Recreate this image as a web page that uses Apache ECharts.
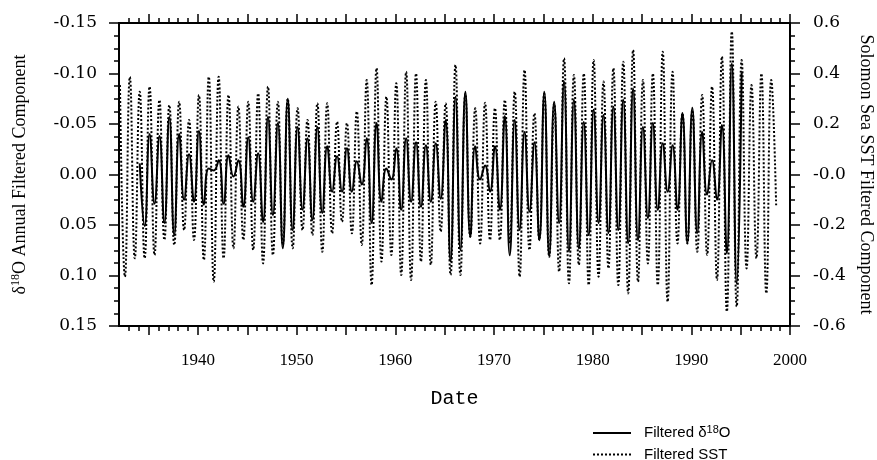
<!DOCTYPE html>
<html>
<head>
<meta charset="utf-8">
<script src="https://cdn.jsdelivr.net/npm/echarts@6/dist/echarts.min.js"></script>
<style>
  html, body { margin: 0; padding: 0; background: #fff; }
  #chart { width: 877px; height: 460px; }
</style>
</head>
<body>
<div id="chart"></div>
<script>
// filtered series, read as peak / trough every half year
var sstStart = 1932.1;
var sstValues = [
  0.354, -0.405, 0.387, -0.332, 0.328, -0.332, 0.348, -0.319, 0.295, -0.259,
  0.275, -0.279, 0.288, -0.220, 0.216, -0.259, 0.315, -0.339, 0.387, -0.425,
  0.387, -0.332, 0.315, -0.292, 0.269, -0.259, 0.288, -0.299, 0.321, -0.352,
  0.348, -0.319, 0.288, -0.280, 0.300, -0.292, 0.262, -0.220, 0.216, -0.240,
  0.282, -0.306, 0.282, -0.233, 0.209, -0.187, 0.203, -0.233, 0.249, -0.279,
  0.374, -0.438, 0.421, -0.345, 0.308, -0.319, 0.361, -0.398, 0.407, -0.418,
  0.400, -0.345, 0.374, -0.358, 0.288, -0.226, 0.282, -0.398, 0.434, -0.398,
  0.320, -0.246, 0.262, -0.273, 0.284, -0.259, 0.262, -0.259, 0.295, -0.273,
  0.328, -0.405, 0.414, -0.299, 0.242, -0.259, 0.320, -0.326, 0.282, -0.385,
  0.460, -0.431, 0.394, -0.358, 0.400, -0.438, 0.453, -0.405, 0.368, -0.372,
  0.421, -0.438, 0.447, -0.471, 0.493, -0.425, 0.374, -0.352, 0.400, -0.438,
  0.486, -0.504, 0.407, -0.273, 0.242, -0.273, 0.255, -0.306, 0.315, -0.319,
  0.348, -0.418, 0.467, -0.543, 0.566, -0.523, 0.453, -0.372, 0.354, -0.332,
  0.400, -0.471, 0.374, -0.127
];

var d18oStart = 1934.1;
var d18oValues = [
  -0.011, 0.051, -0.040, 0.029, -0.038, 0.048, -0.057, 0.060, -0.040, 0.025,
  -0.020, 0.027, -0.043, 0.030, -0.006, -0.004, -0.014, 0.029, -0.019, 0.002,
  -0.014, 0.032, -0.037, 0.027, -0.021, 0.047, -0.057, 0.040, -0.051, 0.073,
  -0.075, 0.055, -0.047, 0.035, -0.036, 0.045, -0.047, 0.038, -0.028, 0.017,
  -0.018, 0.017, -0.026, 0.017, -0.013, 0.010, -0.036, 0.048, -0.051, 0.027,
  -0.006, 0.005, -0.026, 0.035, -0.036, 0.027, -0.032, 0.032, -0.029, 0.027,
  -0.031, 0.024, -0.054, 0.086, -0.077, 0.075, -0.082, 0.062, -0.028, 0.005,
  -0.009, 0.017, -0.028, 0.035, -0.058, 0.080, -0.054, 0.055, -0.042, 0.037,
  -0.032, 0.065, -0.082, 0.081, -0.072, 0.048, -0.092, 0.076, -0.074, 0.073,
  -0.052, 0.060, -0.064, 0.048, -0.059, 0.058, -0.067, 0.055, -0.074, 0.068,
  -0.085, 0.065, -0.047, 0.043, -0.051, 0.035, -0.031, 0.017, -0.029, 0.035,
  -0.061, 0.068, -0.066, 0.058, -0.042, 0.020, -0.014, 0.025, -0.049, 0.078,
  -0.110, 0.108, -0.101
];

var yearTicks = [1935, 1940, 1945, 1950, 1955, 1960, 1965, 1970, 1975, 1980, 1985, 1990, 1995, 2000];
var yearLabels = [1940, 1950, 1960, 1970, 1980, 1990, 2000];

var minorYears = [];
for (var y = 1933; y <= 1999; y++) minorYears.push(y);

function toPairs(start, values) {
  return values.map(function (v, i) {
    return [Math.round((start + i * 0.5) * 10) / 10, v];
  });
}

var chart = echarts.init(document.getElementById('chart'));

var lineBlack = { color: '#000', width: 2 };
var tickBlack = { color: '#000', width: 1.5 };

function xAxisDef(pos, ticks, len, withLabels) {
  return {
    type: 'value',
    position: pos,
    min: 1932,
    max: 2000,
    axisLine: { show: true, onZero: false, lineStyle: lineBlack },
    axisTick: { show: true, customValues: ticks, length: len, lineStyle: tickBlack },
    axisLabel: withLabels ? {
      show: true,
      customValues: yearLabels,
      margin: 26,
      color: '#000',
      fontFamily: 'Liberation Serif',
      fontSize: 17,
      formatter: function (v) { return String(v); }
    } : { show: false },
    splitLine: { show: false }
  };
}

var bottomAxis = xAxisDef('bottom', yearTicks, 9, true);
bottomAxis.name = 'Date';
bottomAxis.nameLocation = 'middle';
bottomAxis.nameGap = 63;
bottomAxis.nameTextStyle = { fontFamily: 'Liberation Mono', fontSize: 20, color: '#000' };

var supRich = {
  a: { fontFamily: 'Liberation Serif', fontSize: 18, color: '#000' },
  s: { fontFamily: 'Liberation Serif', fontSize: 12, color: '#000', padding: [0, 0, 8, 0] }
};

function legendDef(name, top) {
  return {
    orient: 'vertical',
    left: 587,
    top: top,
    itemWidth: 38,
    itemHeight: 12,
    itemStyle: { color: 'rgba(0,0,0,0)', borderWidth: 0 },
    textStyle: {
      fontFamily: 'Liberation Sans',
      fontSize: 15,
      color: '#000',
      padding: [0, 0, 0, 8],
      rich: {
        t: { fontFamily: 'Liberation Sans', fontSize: 15, color: '#000' },
        s: { fontFamily: 'Liberation Sans', fontSize: 11, color: '#000', padding: [0, 0, 7, 0] }
      }
    },
    formatter: function (n) {
      if (n === 'Filtered δ18O') return '{t|Filtered δ}{s|18}{t|O}';
      return n;
    },
    data: [name]
  };
}

chart.setOption({
  animation: false,
  backgroundColor: '#fff',
  grid: { left: 119, right: 87, top: 23, bottom: 134, outerBoundsMode: 'none' },
  legend: [
    legendDef('Filtered δ18O', 419),
    legendDef('Filtered SST', 442)
  ],
  xAxis: [
    bottomAxis,
    xAxisDef('bottom', minorYears, 5, false),
    xAxisDef('top', yearTicks, 9, false),
    xAxisDef('top', minorYears, 5, false)
  ],
  yAxis: [
    {
      type: 'value',
      position: 'left',
      inverse: true,
      min: -0.15,
      max: 0.15,
      interval: 0.05,
      name: '{a|δ}{s|18}{a|O Annual Filtered Component}',
      nameLocation: 'middle',
      nameGap: 89,
      nameRotate: 90,
      nameTextStyle: { rich: supRich },
      axisLine: { show: true, lineStyle: lineBlack },
      axisTick: { show: true, length: 10, lineStyle: tickBlack },
      minorTick: { show: true, splitNumber: 4, length: 5, lineStyle: tickBlack },
      axisLabel: {
        margin: 22,
        color: '#000',
        fontFamily: 'DejaVu Serif',
        fontSize: 17,
        formatter: function (v) { return v.toFixed(2); }
      },
      splitLine: { show: false }
    },
    {
      type: 'value',
      position: 'right',
      min: -0.6,
      max: 0.6,
      interval: 0.2,
      name: 'Solomon Sea SST Filtered Component',
      nameLocation: 'middle',
      nameGap: 67,
      nameRotate: -90,
      nameTextStyle: { fontFamily: 'Liberation Serif', fontSize: 18, color: '#000' },
      axisLine: { show: true, lineStyle: lineBlack },
      axisTick: { show: true, length: 10, lineStyle: tickBlack },
      minorTick: { show: true, splitNumber: 4, length: 5, lineStyle: tickBlack },
      axisLabel: {
        margin: 23,
        color: '#000',
        fontFamily: 'DejaVu Serif',
        fontSize: 17,
        formatter: function (v) {
          if (Math.abs(v) < 1e-9) return '-0.0';
          return v.toFixed(1);
        }
      },
      splitLine: { show: false }
    }
  ],
  series: [
    {
      name: 'Filtered SST',
      type: 'line',
      xAxisIndex: 0,
      yAxisIndex: 1,
      smooth: true,
      symbol: 'none',
      lineStyle: { color: '#000', width: 2, type: [2, 2] },
      itemStyle: { color: '#000' },
      data: toPairs(sstStart, sstValues)
    },
    {
      name: 'Filtered δ18O',
      type: 'line',
      xAxisIndex: 0,
      yAxisIndex: 0,
      smooth: true,
      symbol: 'none',
      lineStyle: { color: '#000', width: 2 },
      itemStyle: { color: '#000' },
      data: toPairs(d18oStart, d18oValues)
    }
  ]
});
</script>
</body>
</html>
